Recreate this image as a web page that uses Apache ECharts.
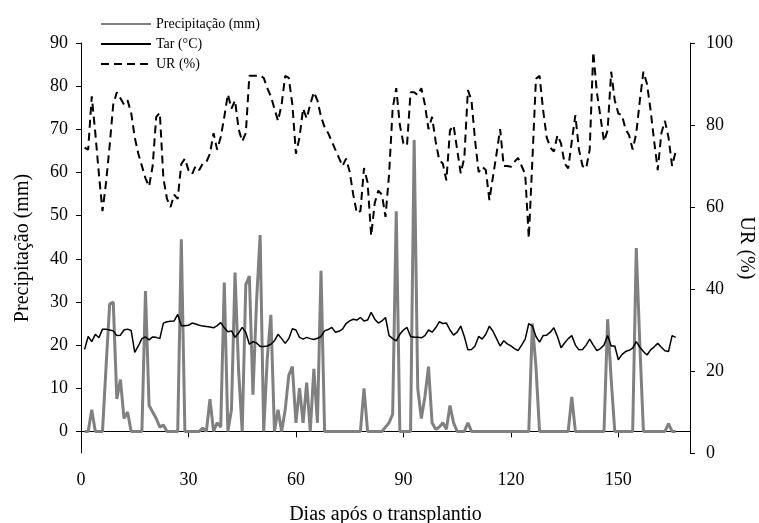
<!DOCTYPE html>
<html><head><meta charset="utf-8">
<script src="https://cdn.jsdelivr.net/npm/echarts@6/dist/echarts.min.js"></script>
<style>html,body{margin:0;padding:0;background:#fff}#c{width:759px;height:523px}</style>
</head><body><div id="c"></div>
<script>
// Day 1..166
const precipitacao = [0,0,5,0,0,0,15,29.5,30,7.5,12,3,4.5,0,0,0,0,32.5,6,4.5,3,1,1.5,0,0,0,0,44.5,0,0,
0,0,0,0.8,0,7.5,0,2,1,34.5,0,5,36.8,14,0,34,36,8.5,30,45.5,0,17,27,0,5,0,5,13,15,2,
10,2,11.3,0,14.5,2,37.2,0,0,0,0,0,0,0,0,0,0,0,10,0,0,0,0,0,1,2,4,51,0,0,
0,0,67.5,10,3,8,15,2,0.5,1,2,0.5,6,2,0,0,0,2,0,0,0,0,0,0,0,0,0,0,0,0,
0,0,0,0,0,25,15,0,0,0,0,0,0,0,0,0,8,0,0,0,0,0,0,0,0,0,26,12,0,0,
0,0,0,0,42.5,20,0,0,0,0,0,0,0,1.8,0,0];
const tar = [19,22,20.8,22.5,21.7,23.7,23.7,23.5,23.3,22.2,22.3,23.5,23.7,23.4,18.3,19.8,21.5,21.9,21.2,21.9,21.8,21.5,25.1,25.4,25.5,25.6,27.1,24.5,24.5,24.6,
25.1,24.9,24.6,24.4,24.3,24.2,24,24.5,25.2,24,23.1,23.3,21.8,22.8,24.1,22.9,20.2,20.8,20.5,19.7,19.7,19.8,20.2,21,22.5,21.5,20.4,21.5,23.8,23.5,
21.8,21.4,21.8,21.5,21.3,21.6,22,23.3,23.6,24.1,23,23.2,23.7,25,25.6,26,25.8,26.4,25.6,25.8,27.6,26,25.1,25.6,26.4,22.2,21.5,21,22.5,23.5,
24.1,22,21.8,21.8,21.7,22.2,23.5,23,24,25.4,25,25.1,23.5,22.3,23,24.4,22,18.9,19,19.8,22,21.4,22.5,24.4,23.2,21.5,19.8,21,20.3,19.8,
19.2,18.7,20,21.4,25,24.4,22,20.7,22.2,22.3,23,24,22,19.4,20.5,21.5,22.2,20,18.9,19,20,21.4,20,18.7,19.2,20,22.2,19.8,19.8,16.6,
17.8,18.5,18.8,19.3,20.8,19.5,18.5,17.7,18.9,19.6,20.4,19.5,18.7,18.5,22.2,21.8];
const ur = [74.5,74,87,78,68,59,66,75,85,88,86.5,85,86,83,77,73,70,67,65,70,82,83,67,62,60,63,62,70.5,71.8,69,
68,70,69,70.6,71,73,78,74,77,82,87.5,84,86,79,76,78,92,92,92,92,91.5,89,87,84,81,85,92,91.5,85,73,
77,84,81.6,85,88,86,82,79.5,78,76,74,72,70,71.8,68.6,63,58.5,59,69.5,66,53,61,64,63,57.6,68,84,89,80,75.5,
75,88,88,87.3,89,85,79,82,76,71.4,70.6,66.5,78.7,79.9,74,68.2,72,88.5,86,76.3,68.5,69.8,69,61.7,67.4,73,79,70,70,69.8,
71,72,70,68,52.4,71.4,91.3,92,83.6,77,74.5,73.5,77.5,75.5,70.6,69.4,76,82.4,74,70,69.4,74,97.8,88,82,76,78.7,93,86,82.8,
82.4,79,77.5,74,78,86,93,90,83.6,76,69,78,81,77,70,73.5];
const xTicks = [0,30,60,90,120,150];
const leftTicks = [0,10,20,30,40,50,60,70,80,90];

const pair = arr => arr.map((v,i)=>[i+1, v]);
const FONT = "'Liberation Serif','Times New Roman',serif";
const chart = echarts.init(document.getElementById('c'), null, {renderer:'canvas'});
chart.setOption({
  animation:false,
  backgroundColor:'#fff',
  textStyle:{fontFamily:FONT, color:'#000'},
  grid:{left:81, right:69, top:43, bottom:70, containLabel:false, outerBoundsMode:'none'},
  legend:{
    orient:'vertical', left:95, top:12, itemGap:6, itemWidth:50, itemHeight:14,
    itemStyle:{opacity:0},
    textStyle:{fontFamily:FONT, fontSize:14, color:'#000'},
    data:['Precipitação (mm)','Tar (°C)','UR (%)']
  },
  xAxis:{
    type:'value', min:0, max:170,
    name:'Dias após o transplantio', nameLocation:'middle', nameGap:52, nameMoveOverlap:false,
    nameTextStyle:{fontFamily:FONT, fontSize:20, color:'#000'},
    axisLine:{lineStyle:{color:'#000', width:1}},
    axisTick:{customValues:xTicks, length:6, lineStyle:{color:'#000'}},
    axisLabel:{customValues:xTicks, margin:18, fontFamily:FONT, fontSize:18, color:'#000'},
    splitLine:{show:false}
  },
  yAxis:[{
    type:'value', min:-5, max:90, position:'left',
    name:'Precipitação (mm)', nameLocation:'middle', nameGap:48, nameMoveOverlap:false,
    nameTextStyle:{fontFamily:FONT, fontSize:20, color:'#000'},
    axisLine:{show:true, lineStyle:{color:'#000', width:1}},
    axisTick:{show:true, customValues:leftTicks, length:5, lineStyle:{color:'#000'}},
    axisLabel:{customValues:leftTicks, margin:13, fontFamily:FONT, fontSize:18, color:'#000'},
    splitLine:{show:false}
  },{
    type:'value', min:0, max:100, interval:20, position:'right',
    name:'UR (%)', nameLocation:'middle', nameGap:46, nameRotate:-90, nameMoveOverlap:false,
    nameTextStyle:{fontFamily:FONT, fontSize:20, color:'#000'},
    axisLine:{show:true, lineStyle:{color:'#000', width:1}},
    axisTick:{show:true, length:5, lineStyle:{color:'#000'}},
    axisLabel:{margin:16, fontFamily:FONT, fontSize:18, color:'#000'},
    splitLine:{show:false}
  }],
  series:[
    {name:'Precipitação (mm)', type:'line', yAxisIndex:0, data:pair(precipitacao), showSymbol:false, symbol:'none',
     lineStyle:{color:'#808080', width:3}, itemStyle:{color:'#808080'}, z:1},
    {name:'Tar (°C)', type:'line', yAxisIndex:0, data:pair(tar), showSymbol:false, symbol:'none',
     lineStyle:{color:'#000', width:1.5}, itemStyle:{color:'#000'}, z:2},
    {name:'UR (%)', type:'line', yAxisIndex:1, data:pair(ur), showSymbol:false, symbol:'none',
     lineStyle:{color:'#000', width:2, type:[8,5]}, itemStyle:{color:'#000'}, z:3}
  ]
});
</script></body></html>
